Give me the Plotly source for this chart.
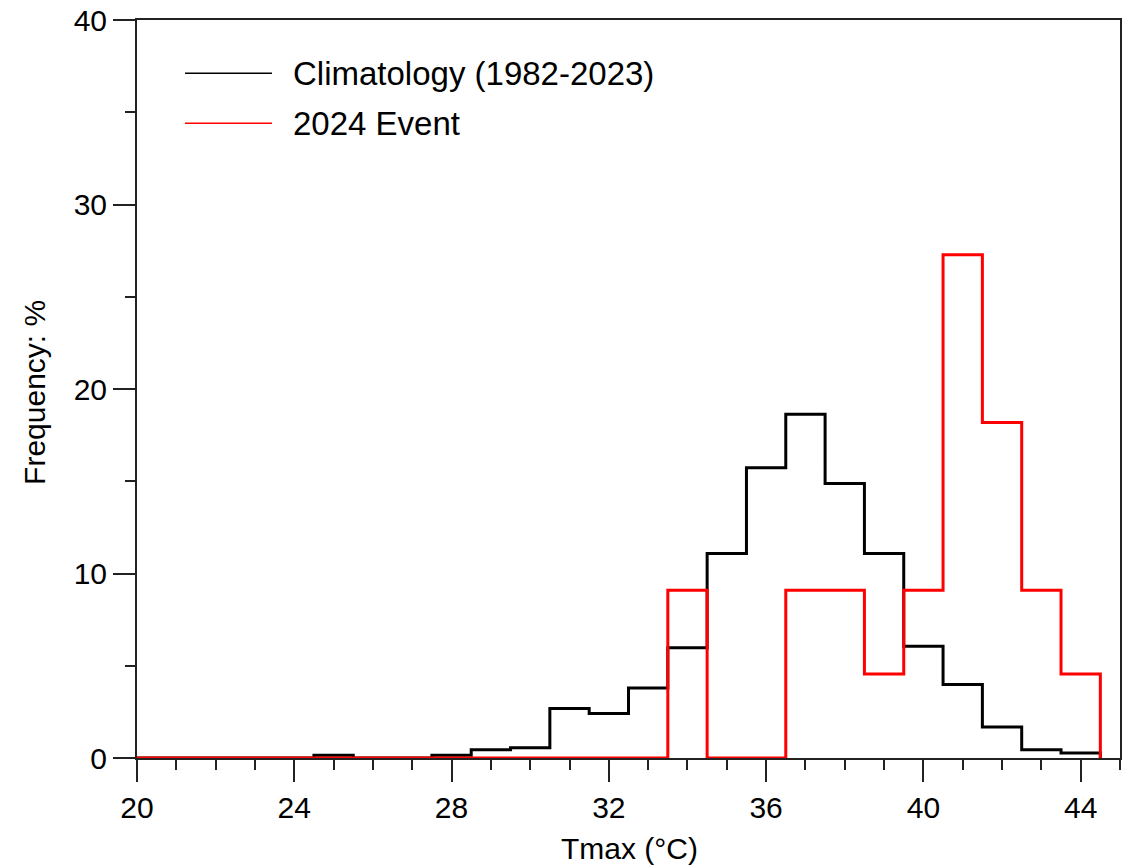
import plotly.graph_objects as go

# Bin centres (°C), 1-degree bins
bin_centers = list(range(20, 45))
# Climatology (1982-2023) frequency, %
clim_freq = [0, 0, 0, 0, 0, 0.15, 0, 0, 0.15, 0.45, 0.55, 2.68, 2.41, 3.80, 5.97,
             11.08, 15.73, 18.63, 14.88, 11.08, 6.06, 3.98, 1.68, 0.45, 0.27]
# 2024 event frequency, %
event_freq = [0, 0, 0, 0, 0, 0, 0, 0, 0, 0, 0, 0, 0, 0, 9.09,
              0, 0, 9.09, 9.09, 4.55, 9.09, 27.27, 18.18, 9.09, 4.55]

x_ticks = [20, 24, 28, 32, 36, 40, 44]
y_ticks = [0, 10, 20, 30, 40]


def step_xy(centers, vals):
    xs = [c - 0.5 for c in centers] + [centers[-1] + 0.5, centers[-1] + 0.5]
    ys = list(vals) + [vals[-1], 0]
    return xs, ys


FONT = "Liberation Sans, Arial, Helvetica, sans-serif"

fig = go.Figure()
cx, cy = step_xy(bin_centers, clim_freq)
ex, ey = step_xy(bin_centers, event_freq)
fig.add_trace(go.Scatter(x=cx, y=cy, mode="lines", line=dict(color="black", width=3, shape="hv"),
                         name="Climatology (1982-2023)", showlegend=False))
fig.add_trace(go.Scatter(x=ex, y=ey, mode="lines", line=dict(color="#ff0000", width=3, shape="hv"),
                         name="2024 Event", showlegend=False))

# custom legend
legend_items = [("Climatology (1982-2023)", "black", 0.928), ("2024 Event", "#ff0000", 0.860)]
for label, col, yy in legend_items:
    fig.add_shape(type="line", xref="paper", yref="paper", x0=0.0488, x1=0.1373, y0=yy, y1=yy,
                  line=dict(color=col, width=1.5))
    fig.add_annotation(xref="paper", yref="paper", x=0.1567, y=yy, text=label, showarrow=False,
                       xanchor="left", yanchor="middle", font=dict(family=FONT, size=33, color="black"))

# axis titles
fig.add_annotation(xref="paper", yref="paper", x=0.5015, y=-0.122, text="Tmax (°C)", showarrow=False,
                   xanchor="center", yanchor="middle", font=dict(family=FONT, size=30, color="black"))
fig.add_annotation(xref="paper", yref="paper", x=-0.1038, y=0.496, text="Frequency: %", showarrow=False,
                   textangle=-90, xanchor="center", yanchor="middle",
                   font=dict(family=FONT, size=30, color="black"))

fig.update_layout(
    width=1132, height=868,
    margin=dict(l=137, r=12, t=20, b=110),
    paper_bgcolor="white", plot_bgcolor="white",
    font=dict(family=FONT, color="black"),
    showlegend=False,
)
fig.update_xaxes(
    range=[20, 45], tickvals=x_ticks, ticktext=[str(t) for t in x_ticks], automargin=False,
    ticks="outside", ticklen=22, tickwidth=2, tickcolor="#222",
    minor=dict(dtick=1, tick0=20, ticks="outside", ticklen=10, tickwidth=1.5, tickcolor="#222", showgrid=False),
    showline=True, linecolor="#222", linewidth=2, mirror=True, showgrid=False, zeroline=False,
    tickfont=dict(family=FONT, size=30, color="black"),
)
fig.update_yaxes(
    range=[0, 40], tickvals=y_ticks, ticktext=[str(t) for t in y_ticks], automargin=False,
    ticks="outside", ticklen=22, tickwidth=2, tickcolor="#222",
    minor=dict(dtick=5, tick0=0, ticks="outside", ticklen=10, tickwidth=1.5, tickcolor="#222", showgrid=False),
    showline=True, linecolor="#222", linewidth=2, mirror=True, showgrid=False, zeroline=False,
    tickfont=dict(family=FONT, size=30, color="black"),
)

fig.write_html("out.html")
